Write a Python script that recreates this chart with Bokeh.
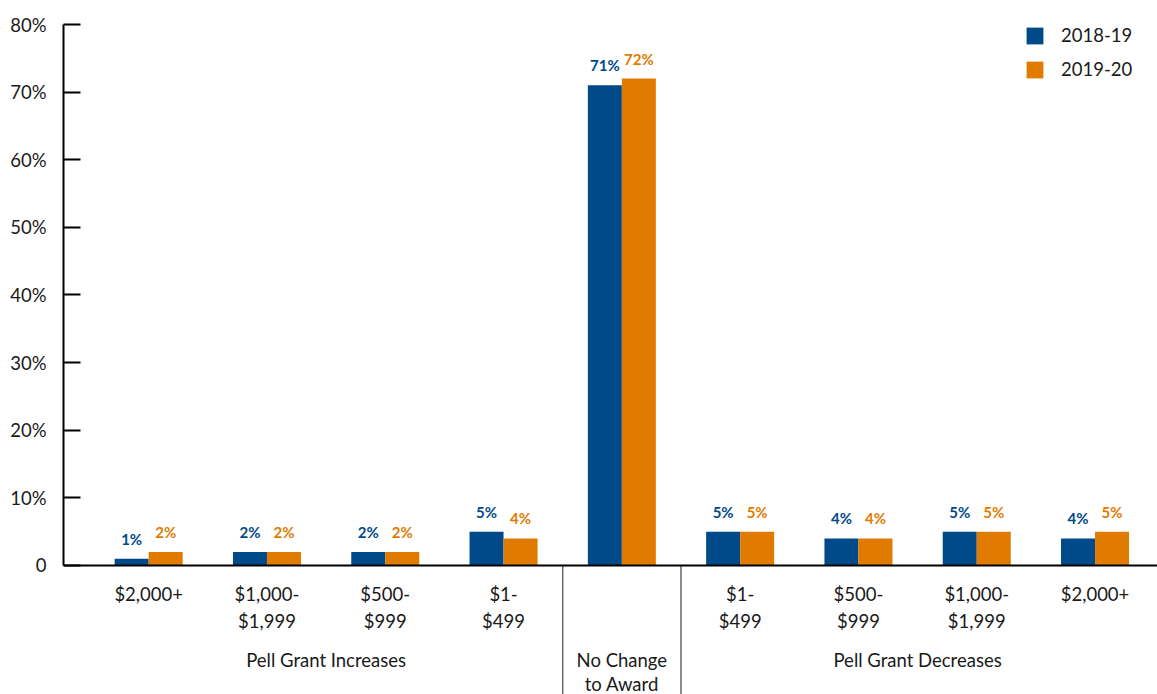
from bokeh.plotting import figure
from bokeh.models import Range1d, FixedTicker, Span, Legend, LegendItem
from bokeh.core.properties import value
from bokeh.embed import file_html
from bokeh.resources import INLINE

# ---- data ----
categories = ["$2,000+", "$1,000-\n$1,999", "$500-\n$999", "$1-\n$499", "",
              "$1-\n$499", "$500-\n$999", "$1,000-\n$1,999", "$2,000+"]
groups = ["Pell Grant Increases", "No Change\nto Award", "Pell Grant Decreases"]
group_starts = [0, 4, 5]
group_ends = [4, 5, 9]
series = ["2018-19", "2019-20"]
values_2018_19 = [1, 2, 2, 5, 71, 5, 4, 5, 4]
values_2019_20 = [2, 2, 2, 4, 72, 5, 4, 5, 5]
y_ticks = [0, 10, 20, 30, 40, 50, 60, 70, 80]
y_tick_labels = ["0", "10%", "20%", "30%", "40%", "50%", "60%", "70%", "80%"]

# ---- style ----
BLUE = "#004a8a"
ORANGE = "#e07b00"
TXT = "#1a1a1a"
FONT = "Lato"
BAR_W = 0.2875
Y_MIN = -19.08

centers = [i + 0.5 for i in range(len(categories))]
x_blue = [c - BAR_W / 2 for c in centers]
x_orange = [c + BAR_W / 2 for c in centers]

p = figure(width=1157, height=694,
           x_range=Range1d(-0.22, 9.028), y_range=Range1d(Y_MIN, 80),
           output_backend="svg", toolbar_location=None,
           x_axis_location=None,
           min_border_left=63, min_border_top=24, min_border_right=0, min_border_bottom=0)
p.outline_line_color = None
p.grid.grid_line_color = None
p.background_fill_color = "white"

ax = p.yaxis[0]
ax.ticker = FixedTicker(ticks=y_ticks)
ax.bounds = (0, 80)
ax.major_label_overrides = {t: l for t, l in zip(y_ticks, y_tick_labels)}
ax.major_tick_in = 17
ax.major_tick_out = 0
ax.minor_tick_line_color = None
ax.axis_line_width = 2
ax.major_tick_line_width = 2
ax.axis_line_color = "black"
ax.major_tick_line_color = "black"
ax.major_label_standoff = 17
ax.major_label_text_font = FONT
ax.major_label_text_font_size = "18.5px"
ax.major_label_text_color = TXT

# x axis line
p.add_layout(Span(location=0, dimension="width", line_color="black", line_width=2))

# group separators
sep_x = group_starts[1:]
p.segment(x0=sep_x, x1=sep_x, y0=[0] * len(sep_x), y1=[Y_MIN] * len(sep_x),
          line_color="#666666", line_width=1.5)

r1 = p.vbar(x=x_blue, top=values_2018_19, width=BAR_W, bottom=0,
            fill_color=BLUE, line_color=None)
r2 = p.vbar(x=x_orange, top=values_2019_20, width=BAR_W, bottom=0,
            fill_color=ORANGE, line_color=None)

p.text(x=x_blue, y=values_2018_19, text=[f"{v}%" for v in values_2018_19],
       text_align="center", text_baseline="alphabetic", y_offset=-20,
       text_font=value(FONT), text_font_style="bold", text_font_size="15px",
       text_color=BLUE)
p.text(x=x_orange, y=values_2019_20, text=[f"{v}%" for v in values_2019_20],
       text_align="center", text_baseline="alphabetic", y_offset=-20,
       text_font=value(FONT), text_font_style="bold", text_font_size="15px",
       text_color=ORANGE)

# category labels
p.text(x=centers, y=[0] * len(centers), text=categories,
       text_align="center", text_baseline="top", y_offset=18,
       text_line_height=1.2,
       text_font=value(FONT), text_font_size="18.5px", text_color=TXT)

# group labels
g_x = [(s + e) / 2 for s, e in zip(group_starts, group_ends)]
p.text(x=g_x, y=[0] * len(g_x), text=groups,
       text_align="center", text_baseline="top", y_offset=84,
       text_line_height=1.05,
       text_font=value(FONT), text_font_size="18.5px", text_color=TXT)

legend = Legend(items=[LegendItem(label=series[0], renderers=[r1]),
                       LegendItem(label=series[1], renderers=[r2])],
                location=(961, 614), glyph_width=21, glyph_height=21,
                label_height=21, label_standoff=16, spacing=12, padding=5,
                margin=0, border_line_color=None, background_fill_alpha=0,
                label_text_font=FONT, label_text_font_size="18.5px",
                label_text_color=TXT)
p.add_layout(legend)

open("out.html", "w").write(file_html(p, INLINE))
